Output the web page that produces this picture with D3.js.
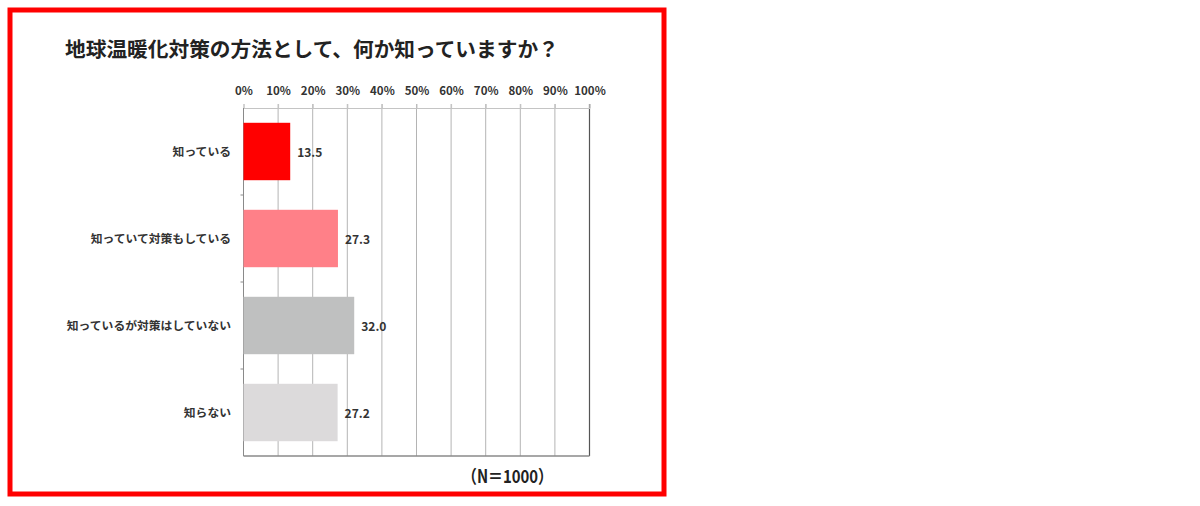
<!DOCTYPE html>
<html><head><meta charset="utf-8">
<script src="https://cdn.jsdelivr.net/npm/d3@7"></script>
<style>
html,body{margin:0;padding:0;background:#fff;}
svg{display:block;}
text{font-family:"Noto Sans CJK JP","Noto Sans",sans-serif;}
</style></head>
<body>
<script>
const titleText = "地球温暖化対策の方法として、何か知っていますか？";
const categories = ["知っている","知っていて対策もしている","知っているが対策はしていない","知らない"];
const values = [13.5, 27.3, 32.0, 27.2];
const valueLabels = ["13.5","27.3","32.0","27.2"];
const barColors = ["#ff0000","#ff8088","#bfc0c0","#dcdadb"];
const tickValues = [0,10,20,30,40,50,60,70,80,90,100];
const noteText = "（N＝1000）";

const W = 1200, H = 506;
const svg = d3.select("body").append("svg").attr("width", W).attr("height", H);
svg.append("rect").attr("width", W).attr("height", H).attr("fill", "#fff");

// red frame
svg.append("rect").attr("x", 10).attr("y", 10).attr("width", 654).attr("height", 484)
  .attr("fill", "none").attr("stroke", "#ff0000").attr("stroke-width", 5);

svg.append("text").attr("x", 65).attr("y", 57).attr("font-size", 20.7).attr("font-weight", "bold")
  .attr("fill", "#222").text(titleText);

const x = d3.scaleLinear().domain([0, 100]).range([243.5, 589.5]);
const y = d3.scaleBand().domain(categories).range([108, 456]).paddingInner(0.34).paddingOuter(0.17);

// gridlines
svg.append("g").selectAll("line").data(tickValues.filter(d => d > 0)).join("line")
  .attr("x1", d => x(d)).attr("x2", d => x(d)).attr("y1", 104).attr("y2", 456)
  .attr("stroke", d => d === 100 ? "#555" : "#b4b4b4").attr("stroke-width", d => d === 100 ? 1.2 : 1);

// top axis
const topAxis = d3.axisTop(x).tickValues(tickValues).tickFormat(d => d + "%").tickSize(4).tickPadding(4);
const gTop = svg.append("g").attr("transform", "translate(0,108)").call(topAxis);
gTop.select(".domain").attr("stroke", "#c4c4c4");
gTop.selectAll(".tick line").attr("stroke", "#c4c4c4");
gTop.selectAll(".tick text").attr("font-size", 11.5).attr("font-weight", "bold").attr("fill", "#333")
  .attr("font-family", "'Noto Sans CJK JP','Noto Sans',sans-serif").attr("dy", "-0.45em");

// left axis
const step = y.step();
const boundaries = [1, 2, 3].map(i => 108 + y.paddingOuter() * step + i * step - y.paddingInner() * step / 2);
const gLeft = svg.append("g");
gLeft.append("line").attr("x1", x(0)).attr("x2", x(0)).attr("y1", 108).attr("y2", 456).attr("stroke", "#8a8a8a");
gLeft.selectAll("line.tk").data(boundaries).join("line").attr("class", "tk")
  .attr("x1", x(0) - 3).attr("x2", x(0)).attr("y1", d => d).attr("y2", d => d).attr("stroke", "#8a8a8a");

// bottom axis line
svg.append("line").attr("x1", x(0)).attr("x2", x(100)).attr("y1", 456).attr("y2", 456)
  .attr("stroke", "#8a8a8a").attr("stroke-width", 1.5);

// bars
svg.append("g").selectAll("rect").data(categories).join("rect")
  .attr("x", x(0)).attr("y", d => y(d))
  .attr("width", (d, i) => x(values[i]) - x(0)).attr("height", y.bandwidth())
  .attr("fill", (d, i) => barColors[i]);

// category labels
svg.append("g").selectAll("text").data(categories).join("text")
  .attr("x", 231).attr("y", d => y(d) + y.bandwidth() / 2).attr("dy", "0.35em")
  .attr("text-anchor", "end").attr("font-size", 11.8).attr("font-weight", "bold").attr("fill", "#333")
  .text(d => d);

// value labels
svg.append("g").selectAll("text").data(categories).join("text")
  .attr("x", (d, i) => x(values[i]) + 7).attr("y", d => y(d) + y.bandwidth() / 2 + 1).attr("dy", "0.35em")
  .attr("font-size", 12).attr("font-weight", "bold").attr("fill", "#333")
  .text((d, i) => valueLabels[i]);

svg.append("text").attr("x", 462).attr("y", 483).attr("font-size", 18).attr("font-weight", "bold")
  .attr("fill", "#222").attr("textLength", 91).attr("lengthAdjust", "spacingAndGlyphs").text(noteText);
</script>
</body></html>
